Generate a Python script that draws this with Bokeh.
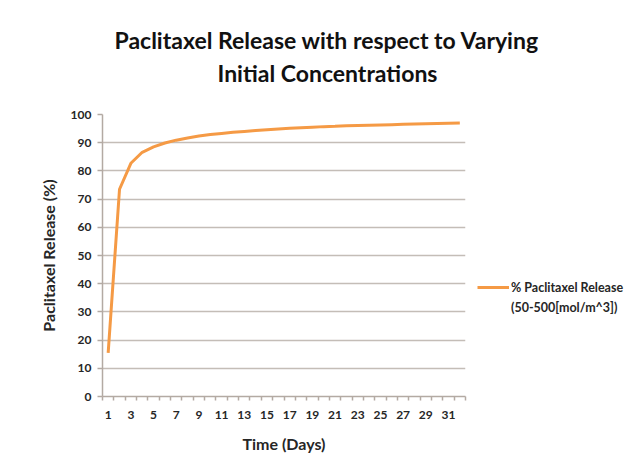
from bokeh.plotting import figure
from bokeh.models import (Range1d, FixedTicker, Title, Legend, LegendItem,
                          ColumnDataSource)
from bokeh.embed import file_html
from bokeh.resources import INLINE

# ---- data ----
days = list(range(1, 33))
release = [15.5, 73.5, 82.7, 86.6, 88.5, 89.9, 90.9, 91.7, 92.4, 92.9,
           93.3, 93.7, 94.0, 94.3, 94.6, 94.9, 95.1, 95.3, 95.5, 95.7,
           95.8, 96.0, 96.1, 96.2, 96.3, 96.4, 96.5, 96.6, 96.7, 96.8,
           96.9, 97.0]
x_tick_labels = [1, 3, 5, 7, 9, 11, 13, 15, 17, 19, 21, 23, 25, 27, 29, 31]
y_ticks = [0, 10, 20, 30, 40, 50, 60, 70, 80, 90, 100]
title_lines = ["Paclitaxel Release with respect to Varying",
               "Initial Concentrations"]
legend_lines = ["% Paclitaxel Release", "(50-500[mol/m^3])"]

FONT = "Lato"
TEXT = "#262626"
ORANGE = "#f59a45"
GRID = "#c4bdb7"
AXIS = "#b3aaa3"

p = figure(output_backend="svg", toolbar_location=None,
           frame_width=363, frame_height=282,
           min_border_left=102, min_border_right=166,
           min_border_top=114, min_border_bottom=58,
           x_range=Range1d(0.5, 32.5), y_range=Range1d(0, 100),
           background_fill_color="white", border_fill_color="white")
p.outline_line_color = None

src = ColumnDataSource(dict(day=days, rel=release))
r = p.line("day", "rel", source=src, line_color=ORANGE, line_width=3)
ghost = p.line(x=[days[0]], y=[release[0]], line_alpha=0)

# x axis
xa = p.xaxis[0]
xa.ticker = FixedTicker(ticks=x_tick_labels,
                        minor_ticks=[d - 0.5 for d in days] + [days[-1] + 0.5])
xa.major_tick_line_color = None
xa.major_tick_out = 0
xa.major_tick_in = 0
xa.minor_tick_line_color = AXIS
xa.minor_tick_line_width = 1.5
xa.minor_tick_out = 4
xa.minor_tick_in = 0
xa.axis_line_color = AXIS
xa.axis_line_width = 1.5
xa.major_label_standoff = 10
xa.major_label_text_font = FONT
xa.major_label_text_font_style = "bold"
xa.major_label_text_font_size = "12px"
xa.major_label_text_color = TEXT
xa.axis_label = "Time (Days)"
xa.axis_label_text_font = FONT
xa.axis_label_text_font_style = "bold"
xa.axis_label_text_font_size = "16px"
xa.axis_label_text_color = TEXT
xa.axis_label_standoff = 12

# y axis
ya = p.yaxis[0]
ya.ticker = FixedTicker(ticks=y_ticks, minor_ticks=[])
ya.major_tick_line_color = AXIS
ya.major_tick_line_width = 1.5
ya.major_tick_out = 5
ya.major_tick_in = 0
ya.axis_line_color = AXIS
ya.axis_line_width = 1.5
ya.major_label_standoff = 6
ya.major_label_text_font = FONT
ya.major_label_text_font_style = "bold"
ya.major_label_text_font_size = "12px"
ya.major_label_text_color = TEXT
ya.axis_label = "Paclitaxel Release (%)"
ya.axis_label_text_font = FONT
ya.axis_label_text_font_style = "bold"
ya.axis_label_text_font_size = "16px"
ya.axis_label_text_color = TEXT
ya.axis_label_standoff = 10

p.xgrid.grid_line_color = None
p.ygrid.grid_line_color = GRID
p.ygrid.grid_line_width = 1.5

# title (two lines): the one added first sits nearest the frame
p.add_layout(Title(text=" ", standoff=8, text_font=FONT,
                   text_font_size="14px"), "above")
p.add_layout(Title(text=title_lines[1], align="left", offset=115,
                   standoff=2, text_font=FONT, text_font_style="bold",
                   text_font_size="23px", text_color="#111111"), "above")
p.add_layout(Title(text=title_lines[0], align="left", offset=12,
                   standoff=4, text_font=FONT, text_font_style="bold",
                   text_font_size="23px", text_color="#111111"), "above")

# legend
legend = Legend(items=[LegendItem(label=legend_lines[0], renderers=[r]),
                       LegendItem(label=legend_lines[1], renderers=[ghost])],
                location=(12, 79), orientation="vertical",
                glyph_width=32, glyph_height=20, label_height=20,
                label_standoff=2, spacing=0, padding=0, margin=0,
                border_line_color=None, background_fill_alpha=0,
                label_text_font=FONT, label_text_font_style="bold",
                label_text_font_size="12.5px", label_text_color=TEXT)
p.add_layout(legend, "right")

open("out.html", "w").write(file_html(p, INLINE))
